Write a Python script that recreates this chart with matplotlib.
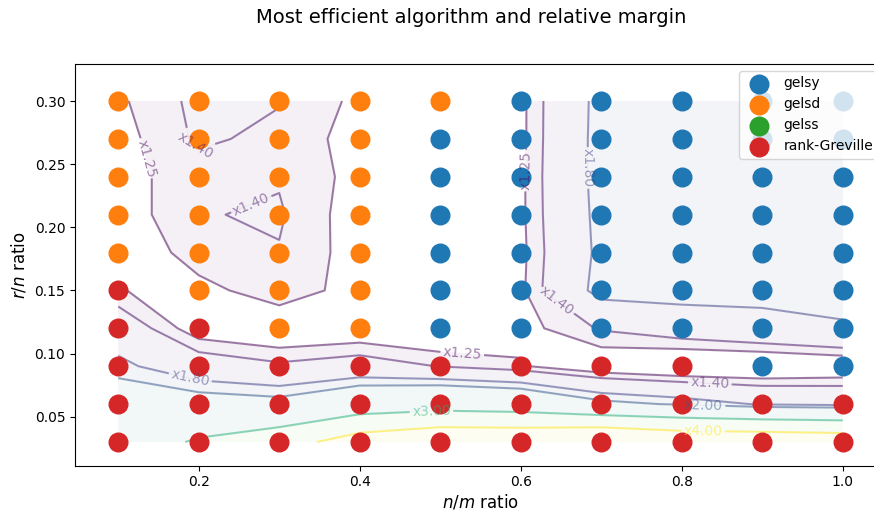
import numpy as np
import matplotlib
matplotlib.use("Agg")
import matplotlib.pyplot as plt

# Ratios del grid: n/m en el eje x, r/n en el eje y
ratios_nm = [0.1, 0.2, 0.3, 0.4, 0.5, 0.6, 0.7, 0.8, 0.9, 1.0]
ratios_rn = [0.03, 0.06, 0.09, 0.12, 0.15, 0.18, 0.21, 0.24, 0.27, 0.30]

algoritmos = ["gelsy", "gelsd", "gelss", "rank-Greville"]

# Algoritmo mas rapido en cada punto (indice en algoritmos), filas de r/n=0.03 a r/n=0.30
mejor = [
    [3, 3, 3, 3, 3, 3, 3, 3, 3, 3],
    [3, 3, 3, 3, 3, 3, 3, 3, 3, 3],
    [3, 3, 3, 3, 3, 3, 3, 3, 0, 0],
    [3, 3, 1, 1, 0, 0, 0, 0, 0, 0],
    [3, 1, 1, 1, 0, 0, 0, 0, 0, 0],
    [1, 1, 1, 1, 0, 0, 0, 0, 0, 0],
    [1, 1, 1, 1, 0, 0, 0, 0, 0, 0],
    [1, 1, 1, 1, 0, 0, 0, 0, 0, 0],
    [1, 1, 1, 1, 0, 0, 0, 0, 0, 0],
    [1, 1, 1, 1, 1, 0, 0, 0, 0, 0],
]

# Margen relativo (segundo mejor tiempo / mejor tiempo), mismas filas
margen = [
    [2.50, 3.10, 3.56, 4.50, 4.90, 4.90, 5.20, 4.85, 4.82, 4.70],
    [2.26, 2.20, 2.13, 2.45, 2.60, 2.50, 2.10, 1.96, 1.77, 1.72],
    [1.88, 1.56, 1.44, 1.53, 1.39, 1.27, 1.08, 1.00, 1.00, 1.05],
    [1.59, 1.13, 1.05, 1.08, 1.02, 1.18, 1.42, 1.55, 1.66, 1.77],
    [1.26, 1.17, 1.38, 1.15, 1.10, 1.21, 1.92, 1.95, 1.92, 1.90],
    [1.02, 1.37, 1.39, 1.17, 1.12, 1.20, 1.88, 1.93, 1.93, 1.92],
    [1.15, 1.39, 1.42, 1.15, 1.12, 1.21, 1.90, 1.93, 1.93, 1.92],
    [1.20, 1.32, 1.385, 1.19, 1.10, 1.21, 1.92, 1.93, 1.93, 1.92],
    [1.18, 1.43, 1.355, 1.18, 1.08, 1.20, 1.92, 1.93, 1.93, 1.92],
    [1.22, 1.45, 1.41, 1.205, 1.05, 1.20, 1.91, 1.93, 1.93, 1.92],
]

niveles = [1.25, 1.4, 1.8, 2.0, 3.0, 4.0]

# donde van las etiquetas de las curvas
pos_etiquetas = [(0.137, 0.255), (0.1975, 0.265), (0.262, 0.223),
                 (0.601, 0.245), (0.679, 0.247), (0.645, 0.142),
                 (0.527, 0.0975), (0.189, 0.0796), (0.489, 0.0553),
                 (0.835, 0.0777), (0.827, 0.0585), (0.827, 0.0395)]

X, Y = np.meshgrid(ratios_nm, ratios_rn)
Z = np.array(margen)
best = np.array(mejor)

fig = plt.figure(figsize=(8.74, 5.12), dpi=100)
ax = fig.add_axes([0.0858, 0.0904, 0.9279, 0.7846])

for i, nombre in enumerate(algoritmos):
    sel = best == i
    ax.scatter(X[sel], Y[sel], s=180, color=f"C{i}", label=nombre, zorder=2.5)

ax.contourf(X, Y, Z, levels=niveles, cmap="viridis", alpha=0.06, extend="max")
cs = ax.contour(X, Y, Z, levels=niveles, cmap="viridis", alpha=0.5)
ax.clabel(cs, fmt="x%1.2f", fontsize=10, manual=pos_etiquetas)

ax.set_xlim(0.0463, 1.0537)
ax.set_ylim(0.0112, 0.3293)
ax.set_xlabel("$n/m$ ratio", fontsize=12, labelpad=2.5)
ax.set_ylabel("$r/n$ ratio", fontsize=12)
ax.legend(loc="upper right")

fig.suptitle("Most efficient algorithm and relative margin", fontsize=14, x=0.5395, y=0.985)
fig.savefig("out.png", dpi=100)
